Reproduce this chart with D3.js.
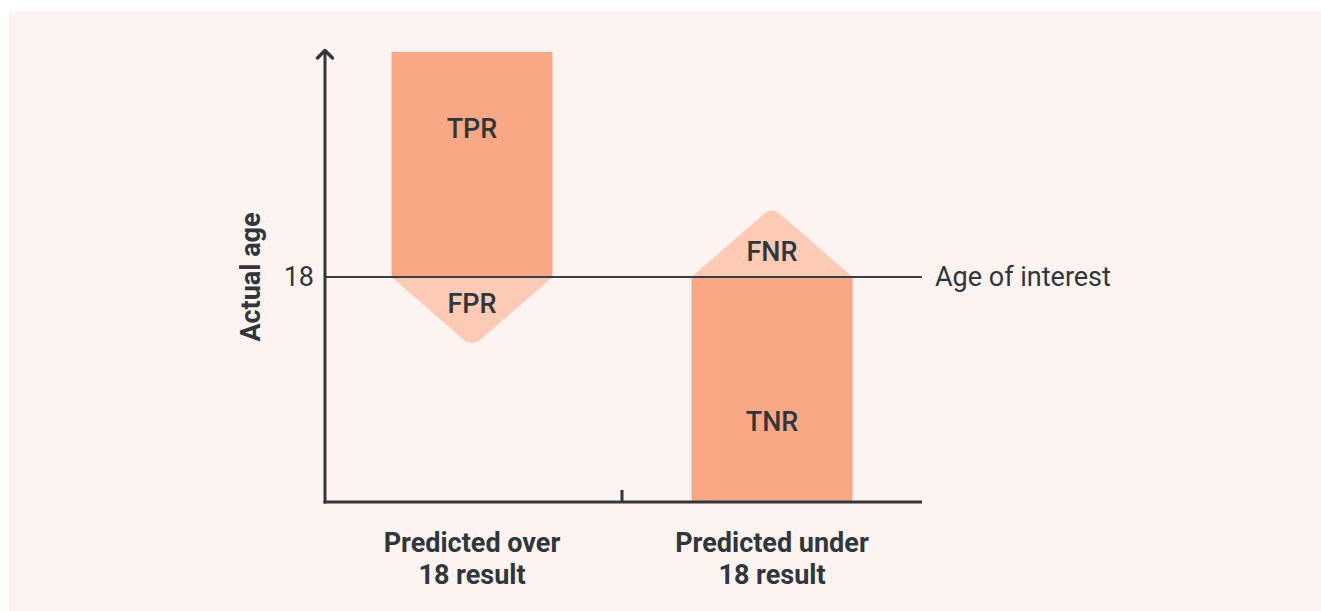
<!DOCTYPE html>
<meta charset="utf-8">
<style>
body { margin: 0; background: #fff; }
svg text { font-family: Roboto, "Noto Sans", sans-serif; fill: #30363c; }
.lbl { font-size: 27px; font-weight: 500; }
.cat { font-size: 27px; font-weight: 700; }
</style>
<svg width="1321" height="611"></svg>
<script src="https://d3js.org/d3.v7.min.js"></script>
<script>

// age threshold and category data
var threshold = 18;
var categories = ["over", "under"];
var categoryLines = [["Predicted over", "18 result"], ["Predicted under", "18 result"]];
var barFrom = [18, 0];
var barTo = [36, 18];
var barLabels = ["TPR", "TNR"];
var barLabelAge = [29.9, 6.4];
var tipAge = [12.4, 23.6];
var tipLabels = ["FPR", "FNR"];
var tipLabelAge = [15.9, 20];

var svg = d3.select("svg");

svg.append("rect")
    .attr("x", 9).attr("y", 11)
    .attr("width", 1312).attr("height", 600)
    .attr("fill", "#fdf3f1");

var x = d3.scalePoint().domain(categories).range([322, 922]).padding(0.5);
var y = d3.scaleLinear().domain([0, 36]).range([502, 52]);
var barW = 161;
var ink = "#30363c";

// bars
svg.append("g").selectAll("rect")
    .data(categories)
    .enter().append("rect")
    .attr("x", function(d) { return x(d) - barW / 2; })
    .attr("y", function(d, i) { return y(barTo[i]); })
    .attr("width", barW)
    .attr("height", function(d, i) { return y(barFrom[i]) - y(barTo[i]); })
    .attr("fill", "#f9a886");

// triangles with rounded tip
function tri(cx, yBase, yTip) {
  var h = yTip - yBase, half = barW / 2, r = 11;
  var len = Math.sqrt(half * half + h * h);
  var ux = half / len, uy = h / len;
  var p = d3.path();
  p.moveTo(cx - half, yBase);
  p.lineTo(cx - r * ux, yTip - r * uy);
  p.quadraticCurveTo(cx, yTip, cx + r * ux, yTip - r * uy);
  p.lineTo(cx + half, yBase);
  p.closePath();
  return p.toString();
}

svg.append("g").selectAll("path")
    .data(categories)
    .enter().append("path")
    .attr("d", function(d, i) { return tri(x(d), y(threshold), y(tipAge[i])); })
    .attr("fill", "#fdcab6");

// threshold line
svg.append("line")
    .attr("x1", 325).attr("x2", 922)
    .attr("y1", y(threshold)).attr("y2", y(threshold))
    .attr("stroke", "#3a3f45").attr("stroke-width", 2);

svg.append("text")
    .attr("x", 935).attr("y", y(threshold))
    .attr("dy", "0.35em")
    .style("font-size", "27px")
    .text("Age of interest");

// labels on shapes
svg.append("g").selectAll("text")
    .data(categories)
    .enter().append("text")
    .attr("class", "lbl")
    .attr("x", function(d) { return x(d); })
    .attr("y", function(d, i) { return y(barLabelAge[i]); })
    .attr("dy", "0.35em")
    .attr("text-anchor", "middle")
    .text(function(d, i) { return barLabels[i]; });

svg.append("g").selectAll("text")
    .data(categories)
    .enter().append("text")
    .attr("class", "lbl")
    .attr("x", function(d) { return x(d); })
    .attr("y", function(d, i) { return y(tipLabelAge[i]); })
    .attr("dy", "0.35em")
    .attr("text-anchor", "middle")
    .text(function(d, i) { return tipLabels[i]; });

// y axis
var yAxis = svg.append("g")
    .attr("transform", "translate(325,0)")
    .call(d3.axisLeft(y).tickValues([threshold]).tickSize(0).tickPadding(11));
yAxis.select(".domain").remove();
yAxis.selectAll("text")
    .style("font-size", "27px")
    .style("font-family", "Roboto, sans-serif")
    .attr("fill", ink);

svg.append("line")
    .attr("x1", 325).attr("x2", 325)
    .attr("y1", y(0) + 1.5).attr("y2", 50)
    .attr("stroke", ink).attr("stroke-width", 3);

svg.append("polyline")
    .attr("points", "317.5,58 325,50.5 332.5,58")
    .attr("fill", "none")
    .attr("stroke", ink).attr("stroke-width", 3.5)
    .attr("stroke-linecap", "round").attr("stroke-linejoin", "round");

svg.append("text")
    .attr("transform", "translate(260," + y(threshold) + ") rotate(-90)")
    .attr("text-anchor", "middle")
    .style("font-size", "27px").style("font-weight", 700)
    .text("Actual age");

// x axis
svg.append("line")
    .attr("x1", 323.5).attr("x2", 922)
    .attr("y1", y(0)).attr("y2", y(0))
    .attr("stroke", ink).attr("stroke-width", 3);

var mid = (x(categories[0]) + x(categories[1])) / 2;
svg.append("line")
    .attr("x1", mid).attr("x2", mid)
    .attr("y1", y(0)).attr("y2", y(0) - 12)
    .attr("stroke", ink).attr("stroke-width", 3);

var cat = svg.append("g").selectAll("text")
    .data(categories)
    .enter().append("text")
    .attr("class", "cat")
    .attr("text-anchor", "middle")
    .attr("x", function(d) { return x(d); })
    .attr("y", 552);

cat.selectAll("tspan")
    .data(function(d, i) { return categoryLines[i]; })
    .enter().append("tspan")
    .attr("x", function() { return x(d3.select(this.parentNode).datum()); })
    .attr("dy", function(d, j) { return j ? 32 : 0; })
    .text(function(d) { return d; });

</script>
